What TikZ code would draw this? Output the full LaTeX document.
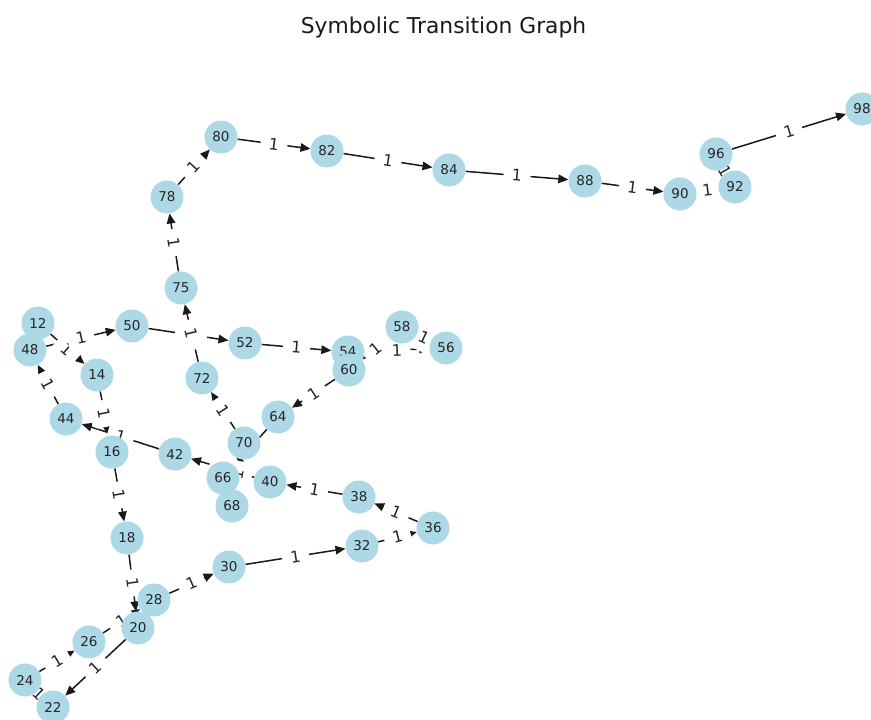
\documentclass[tikz,border=0pt]{standalone}
\usepackage{fontspec}
\setmainfont{DejaVu Sans}
\usetikzlibrary{arrows.meta}
\pgfdeclarelayer{bg}
\pgfsetlayers{bg,main}
\definecolor{nodeblue}{RGB}{173,216,230}
\begin{document}
\begin{tikzpicture}[x=1pt,y=-1pt,
  vtx/.style={circle,fill=nodeblue,minimum size=33pt,inner sep=0pt,font=\fontsize{13.5}{13.5}\selectfont,text=black!85},
  edge/.style={-{Triangle[length=10pt,width=8.5pt]},line width=1.5pt,black!90},
  elbl/.style={fill=white,inner sep=0pt,minimum width=27pt,minimum height=28pt,rounded corners=6pt,font=\fontsize{16}{16}\selectfont,text=black!85,sloped,midway}]
\useasboundingbox (0,0) rectangle (871,720);
\node[font=\fontsize{21.8}{21.8}\selectfont,text=black!90] (title) at (443.5,27) {Symbolic Transition Graph};
\node[vtx] (n12) at (38,323) {12};
\node[vtx] (n48) at (30,350) {48};
\node[vtx] (n50) at (132,326) {50};
\node[vtx] (n14) at (97,375) {14};
\node[vtx] (n44) at (66,419) {44};
\node[vtx] (n16) at (112,452) {16};
\node[vtx] (n42) at (175,454) {42};
\node[vtx] (n52) at (245,343) {52};
\node[vtx] (n54) at (348,352) {54};
\node[vtx] (n60) at (349,370) {60};
\node[vtx] (n58) at (402,327) {58};
\node[vtx] (n56) at (446,348) {56};
\node[vtx] (n72) at (202,378) {72};
\node[vtx] (n64) at (278,417) {64};
\node[vtx] (n70) at (244,443) {70};
\node[vtx] (n66) at (223,478) {66};
\node[vtx] (n68) at (232,506) {68};
\node[vtx] (n40) at (270,482) {40};
\node[vtx] (n38) at (359,497) {38};
\node[vtx] (n36) at (433,528) {36};
\node[vtx] (n32) at (362,546) {32};
\node[vtx] (n30) at (229,567) {30};
\node[vtx] (n18) at (127,538) {18};
\node[vtx] (n28) at (154,600) {28};
\node[vtx] (n20) at (138,628) {20};
\node[vtx] (n26) at (89,642) {26};
\node[vtx] (n24) at (25,680) {24};
\node[vtx] (n22) at (53,707) {22};
\node[vtx] (n75) at (181,288) {75};
\node[vtx] (n78) at (167,197) {78};
\node[vtx] (n80) at (221,137) {80};
\node[vtx] (n82) at (327,151) {82};
\node[vtx] (n84) at (449,170) {84};
\node[vtx] (n88) at (585,181) {88};
\node[vtx] (n90) at (680,194) {90};
\node[vtx] (n92) at (735,187) {92};
\node[vtx] (n96) at (716,154) {96};
\node[vtx] (n98) at (862,109) {98};
\begin{pgfonlayer}{bg}
\foreach \a/\b in {12/14,14/16,16/18,18/20,20/22,22/24,24/26,26/28,28/30,30/32,32/36,36/38,38/40,40/42,42/44,44/48,48/50,50/52,52/54,54/56,56/58,58/60,60/64,64/66,66/68,68/70,70/72,72/75,75/78,78/80,80/82,82/84,84/88,88/90,90/92,92/96,96/98}
  \draw[edge] (n\a) -- (n\b);
\foreach \a/\b in {12/14,14/16,16/18,18/20,20/22,22/24,24/26,26/28,28/30,30/32,32/36,36/38,38/40,40/42,42/44,44/48,48/50,50/52,52/54,54/56,56/58,58/60,60/64,64/66,66/68,68/70,70/72,72/75,75/78,78/80,80/82,82/84,84/88,88/90,90/92,92/96,96/98}
  \path (n\a) -- node[elbl] {1} (n\b);
\end{pgfonlayer}
\end{tikzpicture}
\end{document}
